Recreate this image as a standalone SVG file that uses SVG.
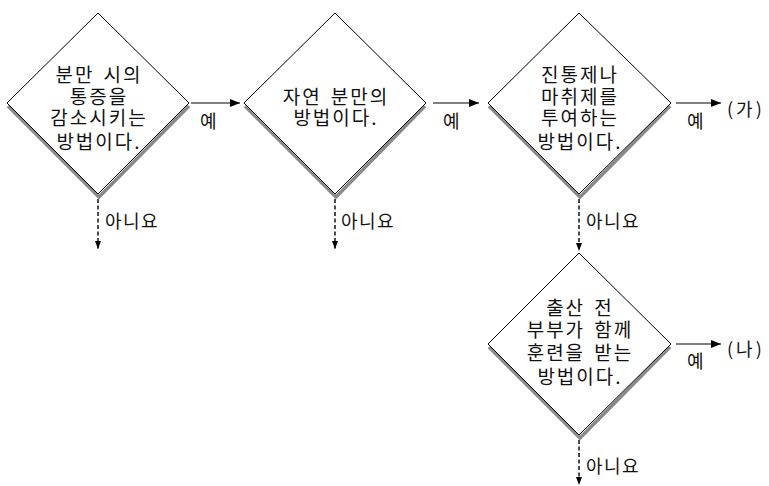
<svg xmlns="http://www.w3.org/2000/svg" width="769" height="486" viewBox="0 0 769 486">
<defs>
<style>
.bg{fill:#fff}
.shadow{fill:none;stroke:#8a8a8a;stroke-width:3.5}
.dia{fill:#fff;stroke:#000;stroke-width:1}
.t{font-family:"Noto Sans CJK KR","Noto Sans",sans-serif;font-size:19px;fill:#111;text-anchor:middle;letter-spacing:2px;word-spacing:3px}
.lbl{font-family:"Noto Sans CJK KR","Noto Sans",sans-serif;font-size:18px;fill:#111;letter-spacing:1.5px}
.par{font-family:"Noto Sans CJK KR","Noto Sans",sans-serif;font-size:18px;fill:#111;letter-spacing:3px}
.yes{fill:none;stroke:#000;stroke-width:1.2}
.no{fill:none;stroke:#000;stroke-width:1.4;stroke-dasharray:4 2.5}
</style>
<marker id="ah" viewBox="0 0 10 8" refX="10" refY="4" markerWidth="10" markerHeight="8" markerUnits="userSpaceOnUse" orient="auto">
<path d="M0,0 L10,4 L0,8 Z" fill="#000"/>
</marker>
<marker id="ahs" viewBox="0 0 8 8" refX="8" refY="4" markerWidth="8" markerHeight="8" markerUnits="userSpaceOnUse" orient="auto">
<path d="M0,1 L8,4 L0,7 Z" fill="#000"/>
</marker>
</defs>
<rect class="bg" x="0" y="0" width="769" height="486"/>

<g id="node1">
<polyline class="shadow" points="8,106 99,197 189,106"/>
<polygon class="dia" points="98,13 189,103 98,194 7,103"/>
<text class="t" x="99" y="82">분만 시의</text>
<text class="t" x="99" y="104">통증을</text>
<text class="t" x="99" y="125">감소시키는</text>
<text class="t" x="99" y="149">방법이다.</text>
</g>

<g id="node2">
<polyline class="shadow" points="245,106 336,197 425,106"/>
<polygon class="dia" points="335,13 426,103 335,194 244,103"/>
<text class="t" x="336" y="104">자연 분만의</text>
<text class="t" x="336" y="125">방법이다.</text>
</g>

<g id="node3">
<polyline class="shadow" points="489,106 580,197 670,106"/>
<polygon class="dia" points="579,13 671,103 579,194 488,103"/>
<text class="t" x="580" y="82">진통제나</text>
<text class="t" x="580" y="104">마취제를</text>
<text class="t" x="580" y="125">투여하는</text>
<text class="t" x="580" y="149">방법이다.</text>
</g>

<g id="node4">
<polyline class="shadow" points="489,347 580,438 670,347"/>
<polygon class="dia" points="579,253 671,344 579,435 488,344"/>
<text class="t" x="580" y="315">출산 전</text>
<text class="t" x="580" y="337">부부가 함께</text>
<text class="t" x="580" y="360">훈련을 받는</text>
<text class="t" x="580" y="384">방법이다.</text>
</g>

<g id="connectors">
<line class="yes" x1="191" y1="103" x2="240" y2="103" marker-end="url(#ah)"/>
<text class="lbl" x="200" y="128">예</text>
<line class="yes" x1="433" y1="103" x2="479" y2="103" marker-end="url(#ah)"/>
<text class="lbl" x="443" y="128">예</text>
<line class="yes" x1="676" y1="103" x2="721" y2="103" marker-end="url(#ah)"/>
<text class="lbl" x="687" y="128">예</text>
<text class="par" x="727" y="116">(가)</text>
<line class="yes" x1="676" y1="344" x2="721" y2="344" marker-end="url(#ah)"/>
<text class="lbl" x="687" y="368">예</text>
<text class="par" x="727" y="356">(나)</text>

<line class="no" x1="98" y1="199" x2="98" y2="249" marker-end="url(#ahs)"/>
<text class="lbl" x="105" y="228">아니요</text>
<line class="no" x1="335" y1="199" x2="335" y2="249" marker-end="url(#ahs)"/>
<text class="lbl" x="341" y="228">아니요</text>
<line class="no" x1="579" y1="199" x2="579" y2="251" marker-end="url(#ahs)"/>
<text class="lbl" x="586" y="228">아니요</text>
<line class="no" x1="579" y1="440" x2="579" y2="485" marker-end="url(#ahs)"/>
<text class="lbl" x="586" y="473">아니요</text>
</g>
</svg>
